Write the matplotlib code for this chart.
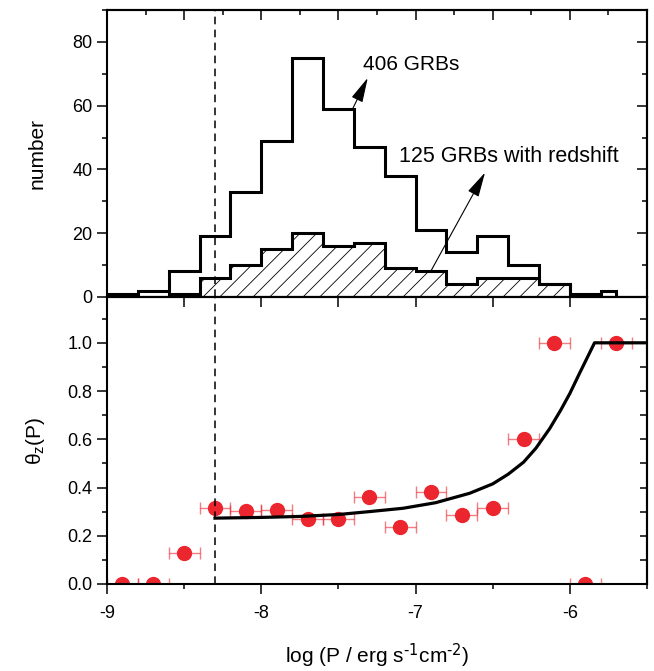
import numpy as np
import matplotlib
matplotlib.use("Agg")
import matplotlib.pyplot as plt
from matplotlib.ticker import MultipleLocator

plt.rcParams['font.family'] = ['Liberation Sans', 'DejaVu Sans']
plt.rcParams['mathtext.default'] = 'regular'
plt.rcParams['axes.unicode_minus'] = False
plt.rcParams['hatch.linewidth'] = 0.6

# histogram: all GRBs
edges_all = [-9.0, -8.8, -8.6, -8.4, -8.2, -8.0, -7.8, -7.6, -7.4, -7.2,
             -7.0, -6.8, -6.6, -6.4, -6.2, -6.0, -5.8, -5.7]
counts_all = [1, 2, 8, 19, 33, 49, 75, 59, 47, 38, 21, 14, 19, 10, 4, 1, 2]

# histogram: GRBs with redshift
edges_z = [-8.6, -8.4, -8.2, -8.0, -7.8, -7.6, -7.4, -7.2, -7.0, -6.8,
           -6.6, -6.4, -6.2, -6.0]
counts_z = [1, 6, 10, 15, 20, 16, 17, 9, 8, 4, 6, 6, 4]

# theta_z(P) points
px = [-8.9, -8.7, -8.5, -8.3, -8.1, -7.9, -7.7, -7.5, -7.3, -7.1,
      -6.9, -6.7, -6.5, -6.3, -6.1, -5.9, -5.7]
py = [0.0, 0.0, 0.127, 0.314, 0.304, 0.307, 0.268, 0.271, 0.362, 0.235,
      0.383, 0.286, 0.317, 0.602, 1.0, 0.0, 1.0]
pxerr = 0.1

# fitted curve
cx = [-8.3, -8.0, -7.75, -7.5, -7.3, -7.08, -6.87, -6.65, -6.5, -6.4,
      -6.3, -6.22, -6.13, -6.06, -6.0, -5.94, -5.89, -5.84, -5.5]
cy = [0.273, 0.276, 0.280, 0.288, 0.300, 0.314, 0.337, 0.376, 0.415, 0.455,
      0.505, 0.563, 0.645, 0.72, 0.79, 0.87, 0.935, 1.0, 1.0]

p_cut = -8.3
red = '#EC262E'

fig = plt.figure(figsize=(6.54, 6.71), dpi=100)
ax1 = fig.add_axes([0.1636, 0.5574, 0.8257, 0.4277])
ax2 = fig.add_axes([0.1636, 0.1297, 0.8257, 0.4277])

# top panel
ax1.stairs(counts_z, edges_z, fill=True, facecolor='none', edgecolor='black',
           hatch='//', linewidth=0)
ax1.stairs(counts_z, edges_z, color='black', lw=2.2)
ax1.stairs(counts_all, edges_all, color='black', lw=2.2)
ax1.axvline(p_cut, color='black', lw=1.1, ls=(0, (5, 3.5)))

arrow = dict(arrowstyle='-|>,head_length=0.9,head_width=0.22', lw=0.8,
             color='black', shrinkA=0, shrinkB=0, mutation_scale=17)
ax1.text(-7.34, 73, '406 GRBs', fontsize=15, va='center', ha='left')
ax1.annotate('', xy=(-7.31, 68.7), xytext=(-7.41, 58.8), arrowprops=arrow)
ax1.text(-7.11, 44.2, '125 GRBs with redshift', fontsize=15.5, va='center', ha='left')
ax1.annotate('', xy=(-6.55, 39), xytext=(-6.90, 8.2), arrowprops=arrow)

ax1.set_xlim(-9, -5.5)
ax1.set_ylim(0, 90)
ax1.set_ylabel('number', fontsize=15)

# bottom panel
ax2.errorbar(px, py, xerr=pxerr, fmt='none', ecolor=red, elinewidth=1.0,
             capsize=4.5, capthick=1.0, alpha=0.6)
ax2.plot(px, py, 'o', color=red, ms=10, mec=red)
ax2.plot(cx, cy, color='black', lw=2.3)
ax2.axvline(p_cut, color='black', lw=1.1, ls=(0, (5, 3.5)))

ax2.set_xlim(-9, -5.5)
ax2.set_ylim(0, 1.19)
ax2.set_ylabel(r'θ$_z$(P)', fontsize=15)
ax2.set_xlabel(r'log (P / erg s$^{\text{-1}}$cm$^{\text{-2}}$)', fontsize=15, labelpad=14)

# ticks
for ax in (ax1, ax2):
    for s in ax.spines.values():
        s.set_linewidth(1.5)
    ax.tick_params(which='both', direction='out', top=False, right=False,
                   labelsize=13, width=1.1)
    ax.tick_params(which='major', length=7)
    ax.tick_params(which='minor', length=3.6)
    ax.yaxis.set_label_coords(-0.112, 0.5)

ax1.xaxis.set_major_locator(MultipleLocator(0.5))
ax1.xaxis.set_minor_locator(MultipleLocator(0.25))
ax1.tick_params(labelbottom=False)
ax1.yaxis.set_major_locator(MultipleLocator(20))
ax1.yaxis.set_minor_locator(MultipleLocator(10))

ax2.xaxis.set_major_locator(MultipleLocator(1))
ax2.xaxis.set_minor_locator(MultipleLocator(0.5))
ax2.yaxis.set_major_locator(MultipleLocator(0.2))
ax2.yaxis.set_minor_locator(MultipleLocator(0.1))
ax2.yaxis.set_major_formatter(matplotlib.ticker.FormatStrFormatter('%.1f'))
ax2.tick_params(axis='x', which='major', pad=8)

# inward ticks on top and right
sx1 = ax1.secondary_xaxis('top')
sx1.xaxis.set_major_locator(MultipleLocator(0.5))
sx1.xaxis.set_minor_locator(MultipleLocator(0.25))
sy1 = ax1.secondary_yaxis('right')
sy1.yaxis.set_major_locator(MultipleLocator(20))
sy1.yaxis.set_minor_locator(MultipleLocator(10))
sx2 = ax2.secondary_xaxis('top')
sx2.xaxis.set_major_locator(MultipleLocator(0.5))
sx2.xaxis.set_minor_locator(MultipleLocator(0.25))
sy2 = ax2.secondary_yaxis('right')
sy2.yaxis.set_major_locator(MultipleLocator(0.1))
sy2.yaxis.set_minor_locator(MultipleLocator(0.1))
for sec in (sx1, sy1, sx2, sy2):
    sec.tick_params(which='both', direction='in', width=1.1,
                    labeltop=False, labelright=False)
    sec.tick_params(which='major', length=7)
    sec.tick_params(which='minor', length=3.6)
    for s in sec.spines.values():
        s.set_linewidth(1.5)
sx2.tick_params(which='minor', length=0)
sy2.tick_params(which='major', length=5)

fig.savefig('out.png', dpi=100)
